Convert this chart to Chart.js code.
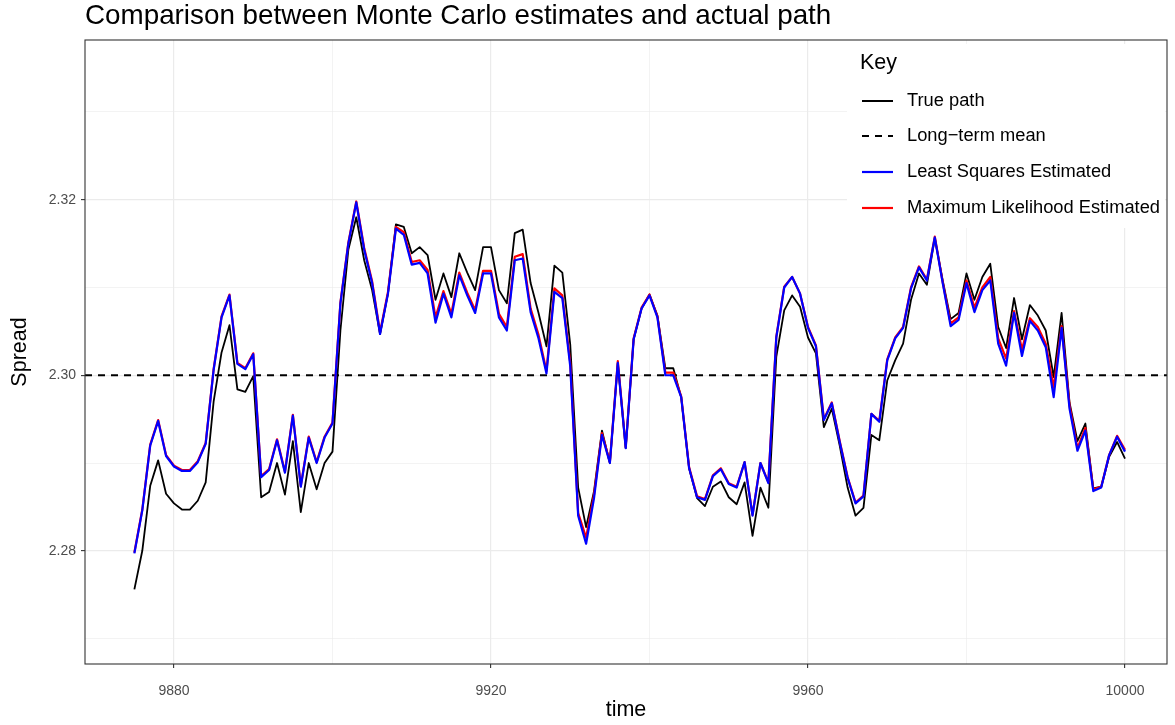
<!DOCTYPE html>
<html>
<head>
<meta charset="utf-8">
<script src="https://cdn.jsdelivr.net/npm/chart.js@4.4.1/dist/chart.umd.min.js"></script>
<style>
  html, body { margin: 0; padding: 0; background: #ffffff; }
  #wrap { width: 1175px; height: 725px; position: relative; }
</style>
</head>
<body>
<div id="wrap"><canvas id="chart" width="1175" height="725"></canvas></div>
<script>
// Time steps of the simulated spread
const time = [
  9875, 9876, 9877, 9878, 9879, 9880, 9881, 9882, 9883, 9884,
  9885, 9886, 9887, 9888, 9889, 9890, 9891, 9892, 9893, 9894,
  9895, 9896, 9897, 9898, 9899, 9900, 9901, 9902, 9903, 9904,
  9905, 9906, 9907, 9908, 9909, 9910, 9911, 9912, 9913, 9914,
  9915, 9916, 9917, 9918, 9919, 9920, 9921, 9922, 9923, 9924,
  9925, 9926, 9927, 9928, 9929, 9930, 9931, 9932, 9933, 9934,
  9935, 9936, 9937, 9938, 9939, 9940, 9941, 9942, 9943, 9944,
  9945, 9946, 9947, 9948, 9949, 9950, 9951, 9952, 9953, 9954,
  9955, 9956, 9957, 9958, 9959, 9960, 9961, 9962, 9963, 9964,
  9965, 9966, 9967, 9968, 9969, 9970, 9971, 9972, 9973, 9974,
  9975, 9976, 9977, 9978, 9979, 9980, 9981, 9982, 9983, 9984,
  9985, 9986, 9987, 9988, 9989, 9990, 9991, 9992, 9993, 9994,
  9995, 9996, 9997, 9998, 9999, 10000
];

// Actual simulated path
const truePath = [
  2.2756, 2.2800, 2.2874, 2.2903, 2.2865, 2.2854, 2.2847, 2.2847, 2.2857, 2.2878,
  2.2970, 2.3026, 2.3057, 2.2984, 2.2981, 2.2999, 2.2861, 2.2867, 2.2900, 2.2864,
  2.2925, 2.2844, 2.2900, 2.2870, 2.2900, 2.2913, 2.3051, 2.3143, 2.3180, 2.3131,
  2.3097, 2.3047, 2.3093, 2.3172, 2.3169, 2.3139, 2.3146, 2.3137, 2.3086, 2.3116,
  2.3089, 2.3139, 2.3117, 2.3097, 2.3146, 2.3146, 2.3097, 2.3082, 2.3162, 2.3166,
  2.3105, 2.3071, 2.3033, 2.3125, 2.3117, 2.3035, 2.2872, 2.2827, 2.2868, 2.2937,
  2.2900, 2.3014, 2.2917, 2.3041, 2.3076, 2.3092, 2.3068, 2.3008, 2.3008, 2.2975,
  2.2894, 2.2860, 2.2851, 2.2873, 2.2879, 2.2861, 2.2853, 2.2878, 2.2817, 2.2872,
  2.2849, 2.3021, 2.3074, 2.3091, 2.3078, 2.3043, 2.3025, 2.2941, 2.2962, 2.2920,
  2.2872, 2.2840, 2.2849, 2.2932, 2.2926, 2.2994, 2.3017, 2.3036, 2.3086, 2.3116,
  2.3103, 2.3156, 2.3108, 2.3064, 2.3071, 2.3116, 2.3086, 2.3112, 2.3127, 2.3055,
  2.3031, 2.3088, 2.3041, 2.3080, 2.3068, 2.3051, 2.2998, 2.3071, 2.2969, 2.2925,
  2.2945, 2.2871, 2.2873, 2.2907, 2.2924, 2.2905
];

// Least squares Monte Carlo estimate
const lsEstimate = [
  2.2797, 2.2846, 2.2920, 2.2948, 2.2908, 2.2896, 2.2891, 2.2891, 2.2901, 2.2922,
  2.3006, 2.3066, 2.3091, 2.3013, 2.3007, 2.3024, 2.2884, 2.2892, 2.2926, 2.2889,
  2.2954, 2.2873, 2.2929, 2.2900, 2.2929, 2.2945, 2.3082, 2.3150, 2.3197, 2.3143,
  2.3105, 2.3047, 2.3093, 2.3167, 2.3160, 2.3126, 2.3128, 2.3116, 2.3060, 2.3093,
  2.3066, 2.3114, 2.3091, 2.3071, 2.3116, 2.3116, 2.3066, 2.3051, 2.3131, 2.3133,
  2.3072, 2.3042, 2.3002, 2.3095, 2.3088, 2.3010, 2.2840, 2.2808, 2.2860, 2.2932,
  2.2900, 2.3014, 2.2917, 2.3041, 2.3076, 2.3091, 2.3066, 2.3000, 2.3000, 2.2975,
  2.2894, 2.2861, 2.2858, 2.2885, 2.2893, 2.2876, 2.2872, 2.2901, 2.2840, 2.2900,
  2.2877, 2.3043, 2.3100, 2.3112, 2.3093, 2.3054, 2.3033, 2.2949, 2.2968, 2.2924,
  2.2883, 2.2854, 2.2862, 2.2956, 2.2947, 2.3017, 2.3042, 2.3054, 2.3099, 2.3123,
  2.3108, 2.3157, 2.3105, 2.3056, 2.3063, 2.3105, 2.3072, 2.3097, 2.3108, 2.3036,
  2.3011, 2.3071, 2.3022, 2.3062, 2.3051, 2.3032, 2.2975, 2.3054, 2.2962, 2.2914,
  2.2937, 2.2868, 2.2872, 2.2909, 2.2930, 2.2913
];

// Maximum likelihood Monte Carlo estimate
const mlEstimate = [
  2.2798, 2.2847, 2.2921, 2.2949, 2.2909, 2.2897, 2.2892, 2.2892, 2.2902, 2.2923,
  2.3007, 2.3067, 2.3092, 2.3014, 2.3008, 2.3025, 2.2885, 2.2893, 2.2927, 2.2890,
  2.2955, 2.2874, 2.2930, 2.2901, 2.2930, 2.2946, 2.3083, 2.3151, 2.3198, 2.3145,
  2.3107, 2.3049, 2.3095, 2.3169, 2.3163, 2.3129, 2.3131, 2.3120, 2.3066, 2.3096,
  2.3070, 2.3117, 2.3094, 2.3074, 2.3119, 2.3119, 2.3070, 2.3055, 2.3135, 2.3138,
  2.3076, 2.3046, 2.3005, 2.3099, 2.3091, 2.3014, 2.2843, 2.2815, 2.2864, 2.2934,
  2.2901, 2.3016, 2.2918, 2.3042, 2.3077, 2.3092, 2.3067, 2.3003, 2.3003, 2.2976,
  2.2895, 2.2862, 2.2859, 2.2886, 2.2894, 2.2877, 2.2873, 2.2901, 2.2841, 2.2900,
  2.2878, 2.3044, 2.3101, 2.3112, 2.3093, 2.3055, 2.3034, 2.2950, 2.2969, 2.2925,
  2.2884, 2.2855, 2.2863, 2.2956, 2.2948, 2.3018, 2.3043, 2.3055, 2.3100, 2.3124,
  2.3109, 2.3158, 2.3106, 2.3059, 2.3066, 2.3108, 2.3077, 2.3100, 2.3112, 2.3042,
  2.3019, 2.3073, 2.3029, 2.3065, 2.3055, 2.3036, 2.2986, 2.3056, 2.2966, 2.2917,
  2.2940, 2.2870, 2.2873, 2.2909, 2.2931, 2.2915
];

// Long-term mean of the process
const longTermMean = 2.30;

// Axis ticks (major ones are labelled, minor ones only get a grid line)
const xMajorTicks = [9880, 9920, 9960, 10000];
const xMinorTicks = [9900, 9940, 9980];
const yMajorTicks = [2.28, 2.30, 2.32];
const yMinorTicks = [2.27, 2.29, 2.31, 2.33];

const legendTitle = 'Key';
const legendLabels = ['True path', 'Long\u2212term mean', 'Least Squares Estimated', 'Maximum Likelihood Estimated'];
const chartTitle = 'Comparison between Monte Carlo estimates and actual path';
const xTitle = 'time';
const yTitle = 'Spread';

const X_MIN = 9868.77, X_MAX = 10005.3;
const Y_MIN = 2.2671, Y_MAX = 2.3382;

const FONT = '"Liberation Sans", Arial, Helvetica, sans-serif';
const GRID = '#ebebeb';
const AXIS_TEXT = '#4d4d4d';
const BORDER = '#333333';

const pairs = (ys) => ys.map((y, i) => ({ x: time[i], y }));

function isMajor(list, v) {
  return list.some(m => Math.abs(m - v) < 1e-9);
}

const legendStyles = [
  { color: '#000000', width: 2, dash: [] },
  { color: '#000000', width: 2, dash: [7, 6] },
  { color: '#0000ff', width: 2.2, dash: [] },
  { color: '#ff0000', width: 2.2, dash: [] }
];

// Title, axis titles, panel border and the key
const decorations = {
  id: 'decorations',
  afterDraw(chart) {
    const { ctx, chartArea: a } = chart;
    ctx.save();
    // panel border
    ctx.strokeStyle = BORDER;
    ctx.lineWidth = 1.1;
    ctx.strokeRect(a.left, a.top, a.right - a.left, a.bottom - a.top);

    // title
    ctx.fillStyle = '#000000';
    ctx.font = '27.8px ' + FONT;
    ctx.textAlign = 'left';
    ctx.textBaseline = 'alphabetic';
    ctx.fillText(chartTitle, a.left, 24);

    // axis titles
    ctx.textBaseline = 'middle';
    ctx.font = '21.5px ' + FONT;
    ctx.textAlign = 'center';
    ctx.fillText(xTitle, (a.left + a.right) / 2, 710);
    ctx.save();
    ctx.translate(20, (a.top + a.bottom) / 2);
    ctx.rotate(-Math.PI / 2);
    ctx.fillText(yTitle, 0, 0);
    ctx.restore();

    // key
    const bx = 847, by = 44, bw = 318, bh = 184;
    ctx.fillStyle = '#ffffff';
    ctx.fillRect(bx, by, bw, bh);
    ctx.fillStyle = '#000000';
    ctx.font = '21.5px ' + FONT;
    ctx.textAlign = 'left';
    ctx.fillText(legendTitle, 860, 63);
    ctx.font = '18.3px ' + FONT;
    const rows = [101, 136, 172, 208];
    legendLabels.forEach((lab, i) => {
      const s = legendStyles[i];
      ctx.strokeStyle = s.color;
      ctx.lineWidth = s.width;
      ctx.setLineDash(s.dash);
      ctx.beginPath();
      ctx.moveTo(862, rows[i]);
      ctx.lineTo(893, rows[i]);
      ctx.stroke();
      ctx.setLineDash([]);
      ctx.fillStyle = '#000000';
      ctx.fillText(lab, 907, rows[i]);
    });
    ctx.restore();
  }
};

const gridWidth = (majors) => (c) => {
  if (!c.tick) return 0;
  return isMajor(majors, c.tick.value) ? 1.2 : 0.6;
};
const tickColor = (majors) => (c) => {
  if (!c.tick) return 'rgba(0,0,0,0)';
  return isMajor(majors, c.tick.value) ? BORDER : 'rgba(0,0,0,0)';
};

new Chart(document.getElementById('chart'), {
  type: 'line',
  data: {
    datasets: [
      {
        label: legendLabels[2],
        data: pairs(lsEstimate),
        borderColor: '#0000ff',
        borderWidth: 2.2
      },
      {
        label: legendLabels[3],
        data: pairs(mlEstimate),
        borderColor: '#ff0000',
        borderWidth: 2.2
      },
      {
        label: legendLabels[0],
        data: pairs(truePath),
        borderColor: '#000000',
        borderWidth: 1.8
      },
      {
        label: legendLabels[1],
        data: [{ x: X_MIN, y: longTermMean }, { x: X_MAX, y: longTermMean }],
        borderColor: '#000000',
        borderWidth: 1.8,
        borderDash: [7, 6]
      }
    ]
  },
  options: {
    responsive: false,
    animation: false,
    devicePixelRatio: 1,
    layout: { padding: { left: 0, top: 40, right: 8, bottom: 0 } },
    elements: {
      point: { radius: 0 },
      line: { tension: 0, fill: false, borderJoinStyle: 'round', borderCapStyle: 'butt' }
    },
    plugins: {
      legend: { display: false },
      tooltip: { enabled: false },
      title: { display: false }
    },
    scales: {
      x: {
        type: 'linear',
        min: X_MIN,
        max: X_MAX,
        afterBuildTicks: (s) => {
          s.ticks = xMinorTicks.concat(xMajorTicks).sort((p, q) => p - q).map(v => ({ value: v }));
        },
        afterFit: (s) => { s.height = 61; },
        ticks: {
          autoSkip: false,
          maxRotation: 0,
          padding: 15,
          color: AXIS_TEXT,
          font: { family: FONT, size: 14 },
          callback: (v) => isMajor(xMajorTicks, v) ? String(v) : ''
        },
        grid: {
          color: GRID,
          lineWidth: gridWidth(xMajorTicks),
          drawTicks: true,
          tickLength: 4,
          tickWidth: 1.1,
          tickColor: tickColor(xMajorTicks)
        },
        border: { display: false }
      },
      y: {
        type: 'linear',
        min: Y_MIN,
        max: Y_MAX,
        afterBuildTicks: (s) => {
          s.ticks = yMinorTicks.concat(yMajorTicks).sort((p, q) => p - q).map(v => ({ value: v }));
        },
        afterFit: (s) => { s.width = 85; },
        ticks: {
          autoSkip: false,
          padding: 5,
          color: AXIS_TEXT,
          font: { family: FONT, size: 14 },
          callback: (v) => isMajor(yMajorTicks, v) ? v.toFixed(2) : ''
        },
        grid: {
          color: GRID,
          lineWidth: gridWidth(yMajorTicks),
          drawTicks: true,
          tickLength: 4,
          tickWidth: 1.1,
          tickColor: tickColor(yMajorTicks)
        },
        border: { display: false }
      }
    }
  },
  plugins: [decorations]
});
</script>
</body>
</html>
